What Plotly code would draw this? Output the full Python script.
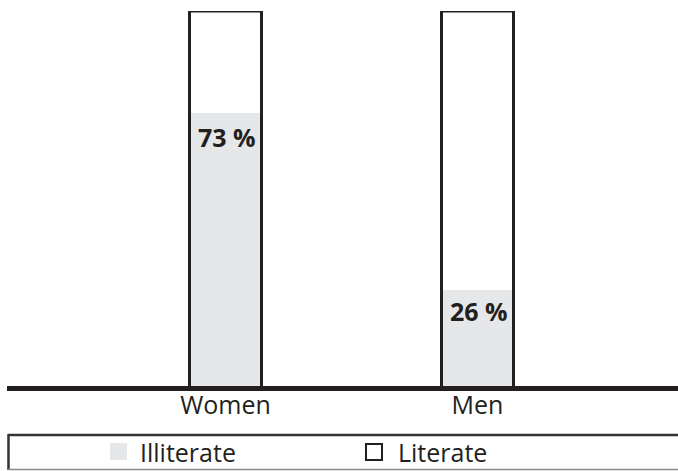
import plotly.graph_objects as go

# Share of illiterate / literate population by sex (%)
groups = ["Women", "Men"]
illiterate = [73, 26]
literate = [27, 74]
value_labels = ["73 %", "26 %"]
legend_names = ["Illiterate", "Literate"]

W, H = 678, 471
M_TOP, M_BOT = 11, 83
PLOT_H = H - M_TOP - M_BOT

INK = "#231f20"
GREY = "#e6e7e8"
FONT = "Open Sans"


def px_x(p):
    return p / W


def px_y(p):
    return (H - M_BOT - p) / PLOT_H


totals = [a + b for a, b in zip(illiterate, literate)]
bar_w = 72 / 252

fig = go.Figure()
fig.add_trace(go.Bar(x=groups, y=illiterate, name=legend_names[0], width=bar_w,
                     marker=dict(color=GREY, line=dict(width=0)), hoverinfo="skip"))
fig.add_trace(go.Bar(x=groups, y=literate, base=illiterate, name=legend_names[1], width=bar_w,
                     marker=dict(color="white", line=dict(width=0)), hoverinfo="skip"))
fig.add_trace(go.Bar(x=groups, y=totals, width=bar_w, showlegend=False,
                     marker=dict(color="rgba(0,0,0,0)", line=dict(width=3, color=INK)),
                     hoverinfo="skip"))

# value labels just below the top of the illiterate segment
label_shift = [-24, -21]
for g, v, t, s in zip(groups, illiterate, value_labels, label_shift):
    fig.add_annotation(x=g, y=v, text=f"<b>{t}</b>", showarrow=False, yanchor="middle",
                       yshift=s, xshift=1, font=dict(family=FONT, size=25, color=INK))

shapes = [
    # baseline (paper-referenced so the full stroke is drawn)
    dict(type="line", xref="paper", yref="paper", x0=px_x(7), x1=1.02,
         y0=px_y(388.5), y1=px_y(388.5), line=dict(color=INK, width=5)),
    # legend frame (open on the right)
    dict(type="line", xref="paper", yref="paper", x0=px_x(8), x1=1.02,
         y0=px_y(435), y1=px_y(435), line=dict(color="#333333", width=2.5)),
    dict(type="line", xref="paper", yref="paper", x0=px_x(8.5), x1=px_x(8.5),
         y0=px_y(434), y1=px_y(470), line=dict(color="#333333", width=2.5)),
    dict(type="line", xref="paper", yref="paper", x0=px_x(8), x1=1.02,
         y0=px_y(469.5), y1=px_y(469.5), line=dict(color="#8a8a8a", width=1.5)),
    # legend swatches
    dict(type="rect", xref="paper", yref="paper", x0=px_x(110), x1=px_x(127),
         y0=px_y(460), y1=px_y(443), fillcolor=GREY, line=dict(width=0)),
    dict(type="rect", xref="paper", yref="paper", x0=px_x(366), x1=px_x(382),
         y0=px_y(460), y1=px_y(444), fillcolor="white", line=dict(color=INK, width=2)),
]

for name, xl in zip(legend_names, [141, 399]):
    fig.add_annotation(xref="paper", yref="paper", x=px_x(xl - 3), y=px_y(452), text=name,
                       showarrow=False, xanchor="left", yanchor="middle",
                       font=dict(family=FONT, size=25, color=INK))

x0 = -225.5 / 252
x1 = (W - 225.5) / 252
fig.update_layout(
    width=W, height=H, barmode="overlay", showlegend=False,
    margin=dict(l=0, r=0, t=M_TOP, b=M_BOT),
    paper_bgcolor="white", plot_bgcolor="white",
    shapes=shapes,
    font=dict(family=FONT, size=25, color=INK),
    xaxis=dict(range=[x0, x1], showgrid=False, zeroline=False, showline=False,
               ticks="", tickfont=dict(family=FONT, size=25, color=INK)),
    yaxis=dict(range=[0, 100], visible=False, showgrid=False, zeroline=False),
)

fig.write_html("out.html")
